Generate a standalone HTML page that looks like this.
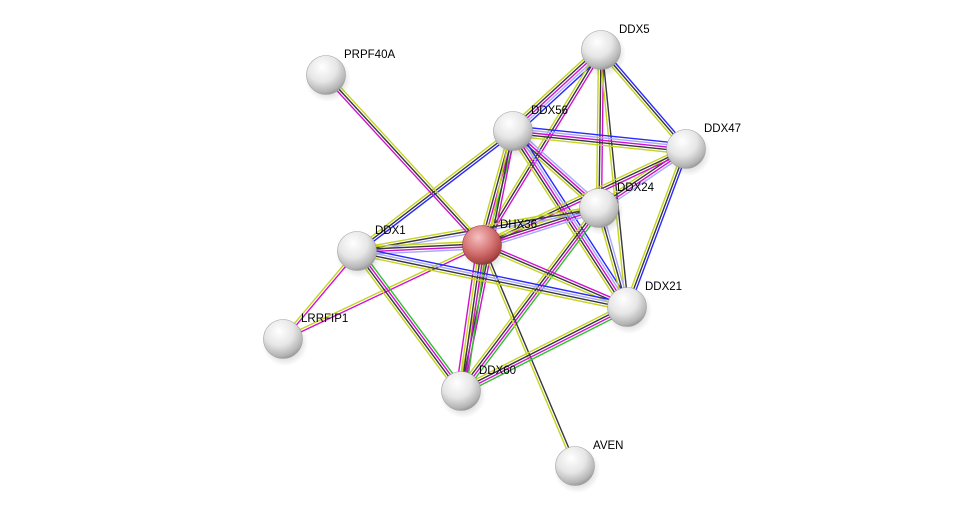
<!DOCTYPE html>
<html><head><meta charset="utf-8"><style>
html,body{margin:0;padding:0;background:#fff;}
svg{display:block;}
text{font-family:"Liberation Sans",Arial,sans-serif;font-size:11.5px;fill:#000;}
</style></head><body>
<svg id="s" width="976" height="512" xmlns="http://www.w3.org/2000/svg">
<defs>
<radialGradient id="g" cx="0.4" cy="0.3" r="0.75">
<stop offset="0" stop-color="#ffffff"/><stop offset="0.5" stop-color="#e6e6e6"/><stop offset="0.85" stop-color="#b4b4b4"/><stop offset="1" stop-color="#8c8c8c"/>
</radialGradient>
<radialGradient id="r" cx="0.4" cy="0.3" r="0.75">
<stop offset="0" stop-color="#f4c0c0"/><stop offset="0.5" stop-color="#d87878"/><stop offset="0.85" stop-color="#b04848"/><stop offset="1" stop-color="#803030"/>
</radialGradient>
<radialGradient id="sh" cx="0.5" cy="0.5" r="0.5">
<stop offset="0" stop-color="#000" stop-opacity="0.35"/><stop offset="1" stop-color="#000" stop-opacity="0"/>
</radialGradient>
</defs>
<g id="edges"></g><g id="nodes"></g>
</svg>
<script>
var N={PRPF40A:[326,75],DDX5:[601,50],DDX56:[513,131],DDX47:[686,149],DDX24:[599,208],DHX36:[482,245],DDX1:[357,251],DDX21:[627,307],LRRFIP1:[283,339],DDX60:[461,391],AVEN:[575,466]};
var C={y:"#c4d420",k:"#383838",m:"#d010d0",b:"#2828ff",l:"#a8a8ff",g:"#30c030"};
var E=[["DDX5","DDX56","blmky"],["DDX5","DDX47","bky"],["DDX5","DDX24","mky"],["DDX5","DHX36","mky"],["DDX5","DDX21","ky"],
["DDX56","DDX47","blmky"],["DDX56","DDX24","lmky"],["DDX56","DHX36","gmky"],["DDX56","DDX1","bky"],["DDX56","DDX21","blmky"],["DDX56","DDX60","mky"],
["DDX47","DDX24","lmky"],["DDX47","DDX21","bky"],["DDX47","DHX36","mky"],["DDX24","DHX36","lmky"],["DDX24","DDX21","lky"],["DDX24","DDX60","gmky"],["DDX24","DDX1","lky"],
["DHX36","DDX1","lmky"],["DHX36","DDX21","mky"],["DHX36","DDX60","gmkym"],["DHX36","AVEN","ky"],["DHX36","LRRFIP1","my"],["DHX36","PRPF40A","mky"],
["DDX1","DDX21","blky"],["DDX1","DDX60","gmky"],["DDX1","LRRFIP1","my"],["DDX21","DDX60","gmky"]];
var ns="http://www.w3.org/2000/svg",eg=document.getElementById("edges"),ng=document.getElementById("nodes");
E.forEach(function(e){var a=N[e[0]],b=N[e[1]],dx=b[0]-a[0],dy=b[1]-a[1],L=Math.hypot(dx,dy),px=-dy/L,py=dx/L,n=e[2].length;
for(var i=0;i<n;i++){var o=(i-(n-1)/2)*2.5;var l=document.createElementNS(ns,"line");
l.setAttribute("x1",a[0]+px*o);l.setAttribute("y1",a[1]+py*o);l.setAttribute("x2",b[0]+px*o);l.setAttribute("y2",b[1]+py*o);
l.setAttribute("stroke",C[e[2][i]]);l.setAttribute("stroke-width","1.4");eg.appendChild(l);}});
for(var k in N){var p=N[k];
var s=document.createElementNS(ns,"ellipse");s.setAttribute("cx",p[0]+2);s.setAttribute("cy",p[1]+4);s.setAttribute("rx",23);s.setAttribute("ry",23);s.setAttribute("fill","url(#sh)");ng.appendChild(s);
var c=document.createElementNS(ns,"circle");c.setAttribute("cx",p[0]);c.setAttribute("cy",p[1]);c.setAttribute("r",19.5);c.setAttribute("fill",k=="DHX36"?"url(#r)":"url(#g)");c.setAttribute("stroke",k=="DHX36"?"#904040":"#a0a0a0");c.setAttribute("stroke-width","0.6");ng.appendChild(c);
var t=document.createElementNS(ns,"text");t.setAttribute("x",p[0]+18);t.setAttribute("y",p[1]-17);t.textContent=k;ng.appendChild(t);}
</script>
</body></html>
